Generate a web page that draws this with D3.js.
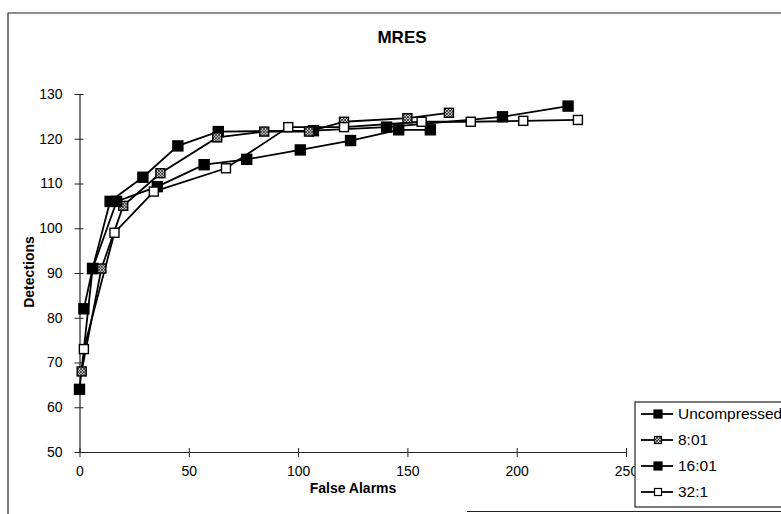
<!DOCTYPE html>
<html>
<head>
<meta charset="utf-8">
<script src="https://cdn.jsdelivr.net/npm/d3@7"></script>
<style>
  body { margin: 0; background: #fff; }
  svg { display: block; font-family: "Liberation Sans", Arial, sans-serif; }
</style>
</head>
<body>
<svg id="chart"></svg>
<script>
// series values (false alarms, detections)
const seriesNames = ['Uncompressed', '8:01', '16:01', '32:1'];

const uncompFA  = [2, 6, 14, 29, 45, 63.5, 107, 140.5, 193.5, 223.5];
const uncompDet = [82, 91, 106, 111.4, 118.4, 121.6, 121.8, 122.6, 124.9, 127.3];

const r8FA  = [1, 10, 20, 37, 63, 84.5, 105, 121, 150, 169];
const r8Det = [68, 91, 105, 112.3, 120.3, 121.6, 121.6, 123.8, 124.6, 125.8];

const r16FA  = [0, 6, 17, 35.6, 57, 76.5, 101, 124, 146, 160.5];
const r16Det = [64, 91, 106, 109.3, 114.2, 115.4, 117.5, 119.6, 122, 122];

const r32FA  = [2, 16, 34, 67, 95.5, 121, 156.5, 179, 203, 228];
const r32Det = [73, 99, 108.2, 113.4, 122.6, 122.6, 123.8, 123.8, 124, 124.2];

const xTicks = [0, 50, 100, 150, 200, 250];
const yTicks = [50, 60, 70, 80, 90, 100, 110, 120, 130];

const W = 781, H = 514;
const svg = d3.select('#chart').attr('width', W).attr('height', H);

// hatched marker fill
const defs = svg.append('defs');
const pat = defs.append('pattern')
  .attr('id', 'hatch').attr('width', 3).attr('height', 3)
  .attr('patternUnits', 'userSpaceOnUse');
pat.append('rect').attr('width', 3).attr('height', 3).attr('fill', '#bbb');
pat.append('path').attr('d', 'M0,0L3,3M3,0L0,3').attr('stroke', '#222').attr('stroke-width', 0.7);

const styles = {
  'Uncompressed': {fill: '#000', size: 10},
  '8:01': {fill: 'url(#hatch)', size: 9},
  '16:01': {fill: '#000', size: 10},
  '32:1': {fill: '#fff', size: 9}
};

const series = [
  {name: 'Uncompressed', fa: uncompFA, det: uncompDet},
  {name: '8:01', fa: r8FA, det: r8Det},
  {name: '16:01', fa: r16FA, det: r16Det},
  {name: '32:1', fa: r32FA, det: r32Det}
].map(s => ({name: s.name, pts: s.fa.map((f, i) => ({x: f, y: s.det[i]}))}));

// frame of the scanned chart
svg.append('path')
  .attr('d', `M8,${H}L8,13L${W},13`)
  .attr('fill', 'none').attr('stroke', '#222').attr('stroke-width', 1.2);
svg.append('line')
  .attr('x1', 467).attr('x2', W).attr('y1', 511.5).attr('y2', 511.5)
  .attr('stroke', '#222').attr('stroke-width', 1.2);

svg.append('text')
  .attr('x', 402).attr('y', 43)
  .attr('text-anchor', 'middle')
  .style('font-size', '17px').style('font-weight', 'bold')
  .text('MRES');

const x = d3.scaleLinear().domain([0, 250]).range([79.5, 626]);
const y = d3.scaleLinear().domain([50, 130]).range([452, 94]);

// axes
const xAxis = svg.append('g')
  .attr('transform', `translate(0,${y(50)})`)
  .call(d3.axisBottom(x).tickValues(xTicks).tickSize(5).tickSizeOuter(0).tickPadding(9));
xAxis.selectAll('.tick line').attr('y1', -4);

const yAxis = svg.append('g')
  .attr('transform', `translate(${x(0)},0)`)
  .call(d3.axisLeft(y).tickValues(yTicks).tickSize(5).tickSizeOuter(0).tickPadding(12));
yAxis.selectAll('.tick line').attr('x1', -5).attr('x2', 4);

svg.selectAll('.domain').attr('stroke', '#222').attr('stroke-width', 1.2);
svg.selectAll('.tick line').attr('stroke', '#222');
svg.selectAll('.tick text').attr('fill', '#000').style('font-size', '14px');

svg.append('text')
  .attr('x', 353).attr('y', 493)
  .attr('text-anchor', 'middle')
  .style('font-size', '14px').style('font-weight', 'bold')
  .text('False Alarms');

svg.append('text')
  .attr('transform', `translate(34,272) rotate(-90)`)
  .attr('text-anchor', 'middle')
  .style('font-size', '14px').style('font-weight', 'bold')
  .text('Detections');

// lines + markers
const line = d3.line().x(d => x(d.x)).y(d => y(d.y));

series.forEach(s => {
  svg.append('path')
    .datum(s.pts)
    .attr('d', line)
    .attr('fill', 'none')
    .attr('stroke', '#000')
    .attr('stroke-width', 1.8);
});

series.forEach(s => {
  const st = styles[s.name];
  svg.selectAll(null)
    .data(s.pts)
    .enter()
    .append('rect')
    .attr('x', d => x(d.x) - st.size / 2)
    .attr('y', d => y(d.y) - st.size / 2)
    .attr('width', st.size)
    .attr('height', st.size)
    .attr('fill', st.fill)
    .attr('stroke', '#000')
    .attr('stroke-width', 1.4);
});

// legend (runs off the right edge as in the scan)
const lg = svg.append('g');
lg.append('rect')
  .attr('x', 635).attr('y', 402).attr('width', 160).attr('height', 105)
  .attr('fill', '#fff').attr('stroke', '#222').attr('stroke-width', 1.2);

const legendY = d3.scalePoint().domain(seriesNames).range([414, 492]);
seriesNames.forEach(n => {
  const st = styles[n];
  const ly = legendY(n);
  lg.append('line')
    .attr('x1', 641).attr('x2', 673).attr('y1', ly).attr('y2', ly)
    .attr('stroke', '#000').attr('stroke-width', 1.8);
  const sz = (n === '8:01' || n === '32:1') ? 7 : 8;
  lg.append('rect')
    .attr('x', 658 - sz / 2).attr('y', ly - sz / 2)
    .attr('width', sz).attr('height', sz)
    .attr('fill', st.fill).attr('stroke', '#000').attr('stroke-width', 1.2);
  lg.append('text')
    .attr('x', 678).attr('y', ly + 5)
    .style('font-size', '15.5px')
    .text(n);
});
</script>
</body>
</html>
